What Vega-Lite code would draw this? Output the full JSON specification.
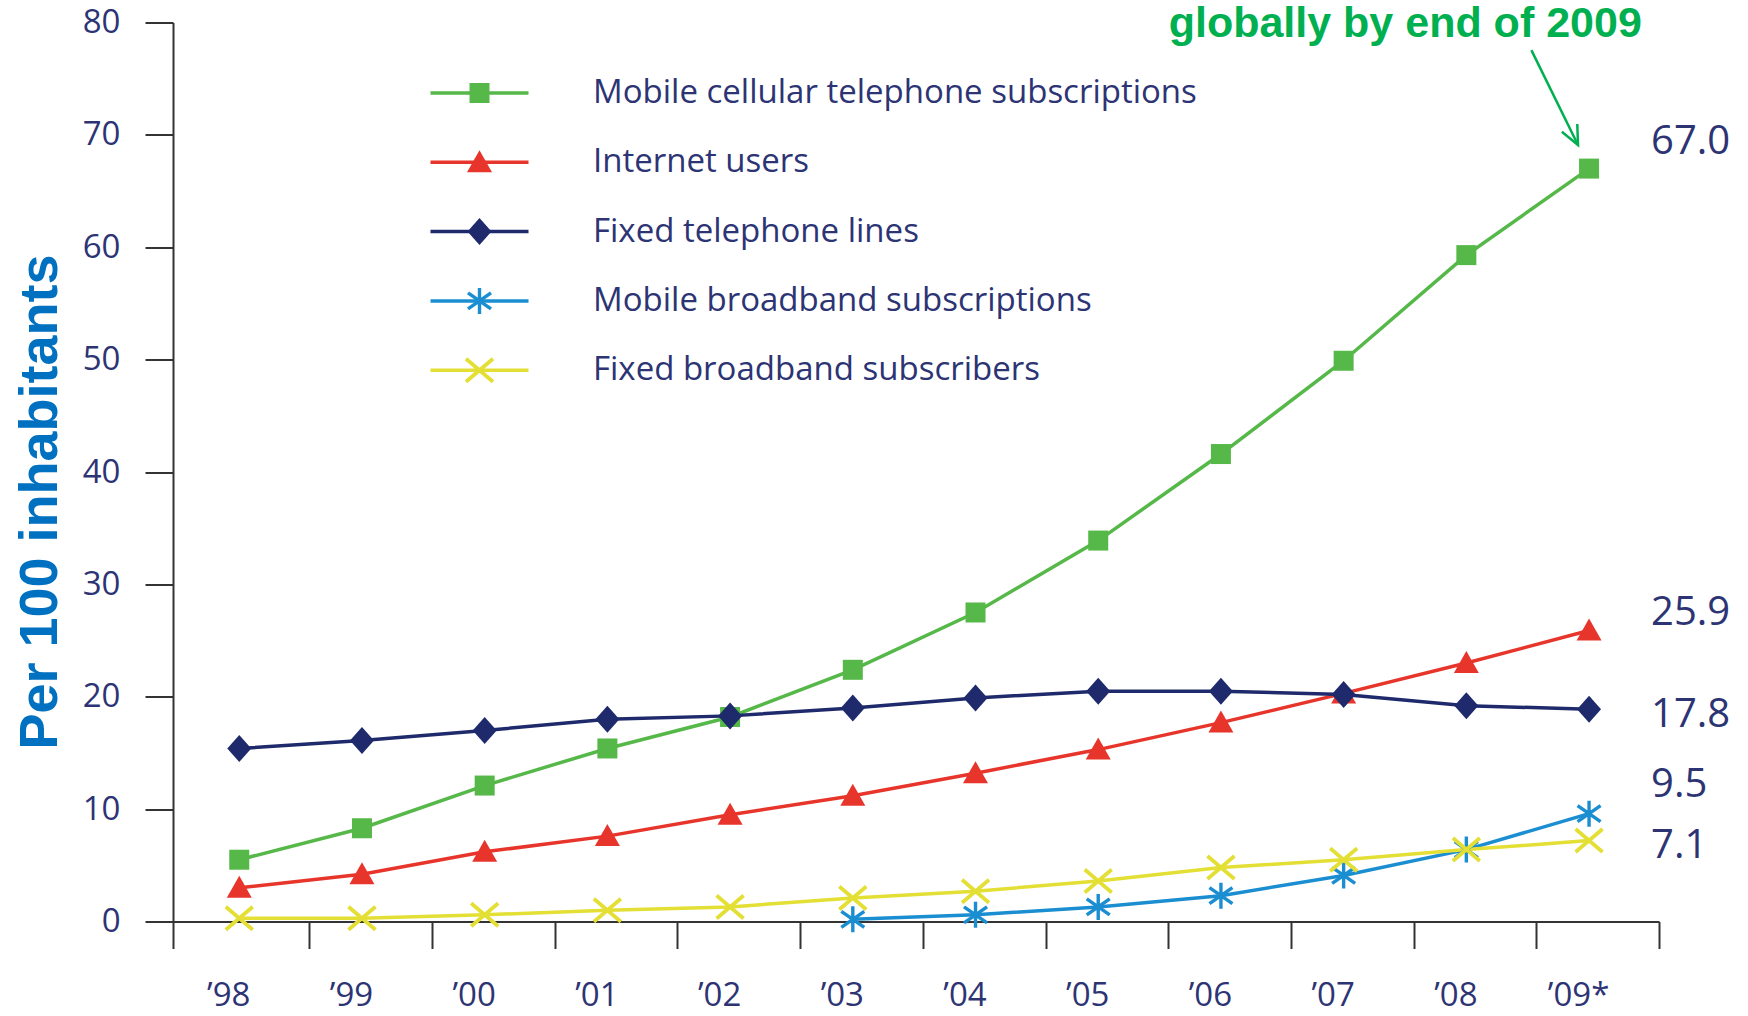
{
  "$schema": "https://vega.github.io/schema/vega-lite/v6.json",
  "width": 1486,
  "height": 926,
  "autosize": {"type": "none"},
  "padding": {"left": 173, "top": 22.5, "right": 89, "bottom": 67.5},
  "background": "white",
  "config": {"view": {"stroke": null}, "font": "Open Sans"},
  "datasets": {
    "main": [
      {"series": "Mobile cellular telephone subscriptions", "year": 1998, "value": 5.5},
      {"series": "Mobile cellular telephone subscriptions", "year": 1999, "value": 8.3},
      {"series": "Mobile cellular telephone subscriptions", "year": 2000, "value": 12.1},
      {"series": "Mobile cellular telephone subscriptions", "year": 2001, "value": 15.4},
      {"series": "Mobile cellular telephone subscriptions", "year": 2002, "value": 18.2},
      {"series": "Mobile cellular telephone subscriptions", "year": 2003, "value": 22.4},
      {"series": "Mobile cellular telephone subscriptions", "year": 2004, "value": 27.5},
      {"series": "Mobile cellular telephone subscriptions", "year": 2005, "value": 33.9},
      {"series": "Mobile cellular telephone subscriptions", "year": 2006, "value": 41.6},
      {"series": "Mobile cellular telephone subscriptions", "year": 2007, "value": 49.9},
      {"series": "Mobile cellular telephone subscriptions", "year": 2008, "value": 59.3},
      {"series": "Mobile cellular telephone subscriptions", "year": 2009, "value": 67.0},
      {"series": "Internet users", "year": 1998, "value": 3.0},
      {"series": "Internet users", "year": 1999, "value": 4.2},
      {"series": "Internet users", "year": 2000, "value": 6.2},
      {"series": "Internet users", "year": 2001, "value": 7.6},
      {"series": "Internet users", "year": 2002, "value": 9.5},
      {"series": "Internet users", "year": 2003, "value": 11.2},
      {"series": "Internet users", "year": 2004, "value": 13.2},
      {"series": "Internet users", "year": 2005, "value": 15.3},
      {"series": "Internet users", "year": 2006, "value": 17.7},
      {"series": "Internet users", "year": 2007, "value": 20.3},
      {"series": "Internet users", "year": 2008, "value": 23.0},
      {"series": "Internet users", "year": 2009, "value": 25.9},
      {"series": "Fixed telephone lines", "year": 1998, "value": 15.4},
      {"series": "Fixed telephone lines", "year": 1999, "value": 16.1},
      {"series": "Fixed telephone lines", "year": 2000, "value": 17.0},
      {"series": "Fixed telephone lines", "year": 2001, "value": 18.0},
      {"series": "Fixed telephone lines", "year": 2002, "value": 18.3},
      {"series": "Fixed telephone lines", "year": 2003, "value": 19.0},
      {"series": "Fixed telephone lines", "year": 2004, "value": 19.9},
      {"series": "Fixed telephone lines", "year": 2005, "value": 20.5},
      {"series": "Fixed telephone lines", "year": 2006, "value": 20.5},
      {"series": "Fixed telephone lines", "year": 2007, "value": 20.2},
      {"series": "Fixed telephone lines", "year": 2008, "value": 19.2},
      {"series": "Fixed telephone lines", "year": 2009, "value": 18.9},
      {"series": "Mobile broadband subscriptions", "year": 2003, "value": 0.2},
      {"series": "Mobile broadband subscriptions", "year": 2004, "value": 0.6},
      {"series": "Mobile broadband subscriptions", "year": 2005, "value": 1.3},
      {"series": "Mobile broadband subscriptions", "year": 2006, "value": 2.3},
      {"series": "Mobile broadband subscriptions", "year": 2007, "value": 4.1},
      {"series": "Mobile broadband subscriptions", "year": 2008, "value": 6.4},
      {"series": "Mobile broadband subscriptions", "year": 2009, "value": 9.6},
      {"series": "Fixed broadband subscribers", "year": 1998, "value": 0.3},
      {"series": "Fixed broadband subscribers", "year": 1999, "value": 0.3},
      {"series": "Fixed broadband subscribers", "year": 2000, "value": 0.6},
      {"series": "Fixed broadband subscribers", "year": 2001, "value": 1.0},
      {"series": "Fixed broadband subscribers", "year": 2002, "value": 1.3},
      {"series": "Fixed broadband subscribers", "year": 2003, "value": 2.1},
      {"series": "Fixed broadband subscribers", "year": 2004, "value": 2.7},
      {"series": "Fixed broadband subscribers", "year": 2005, "value": 3.6},
      {"series": "Fixed broadband subscribers", "year": 2006, "value": 4.8},
      {"series": "Fixed broadband subscribers", "year": 2007, "value": 5.5},
      {"series": "Fixed broadband subscribers", "year": 2008, "value": 6.4},
      {"series": "Fixed broadband subscribers", "year": 2009, "value": 7.2}
    ],
    "labels": [
      {"series": "Mobile cellular telephone subscriptions", "year": 2009, "value": 67.0},
      {"series": "Internet users", "year": 2009, "value": 25.9},
      {"series": "Fixed telephone lines", "year": 2009, "value": 17.8},
      {"series": "Mobile broadband subscriptions", "year": 2009, "value": 9.5},
      {"series": "Fixed broadband subscribers", "year": 2009, "value": 7.1}
    ]
  },
  "layer": [
    {
      "data": {"name": "main"},
      "mark": {"type": "line", "strokeWidth": 3.5},
      "encoding": {
        "x": {
          "field": "year", "type": "quantitative",
          "scale": {"domain": [1997.46, 2009.57], "nice": false, "zero": false},
          "axis": {
            "values": [1998, 1999, 2000, 2001, 2002, 2003, 2004, 2005, 2006, 2007, 2008, 2009],
            "labelExpr": "datum.value == 2009 ? '’09*' : '’' + substring(toString(datum.value), 2)",
            "title": null,
            "grid": false,
            "offset": -27,
            "tickOffset": 70,
            "labelOffset": -81,
            "tickSize": 27,
            "tickWidth": 2,
            "tickColor": "#333333",
            "domainColor": "#333333",
            "domainWidth": 2,
            "labelFont": "Open Sans",
            "labelFontSize": 33,
            "labelColor": "#2d3474",
            "labelPadding": 31,
            "labelFlush": false,
            "labelOverlap": false,
            "labelBound": false
          }
        },
        "y": {
          "field": "value", "type": "quantitative",
          "scale": {"domain": [-2.4, 80], "nice": false, "zero": false},
          "axis": {
            "values": [0, 10, 20, 30, 40, 50, 60, 70, 80],
            "title": "Per 100 inhabitants",
            "titleFont": "Liberation Sans",
            "titleFontSize": 54,
            "titleFontWeight": "bold",
            "titleColor": "#0070c0",
            "titleAngle": -90,
            "titleAlign": "center",
            "titleBaseline": "alphabetic",
            "titleX": -117,
            "titleY": 479,
            "grid": false,
            "tickSize": 28,
            "tickWidth": 2,
            "tickColor": "#333333",
            "domainColor": "#333333",
            "domainWidth": 2,
            "labelFont": "Open Sans",
            "labelFontSize": 33,
            "labelColor": "#2d3474",
            "labelPadding": 25,
            "labelFlush": false,
            "labelOverlap": false,
            "labelBound": false
          }
        },
        "stroke": {
          "field": "series", "type": "nominal",
          "scale": {
            "domain": ["Mobile cellular telephone subscriptions", "Internet users", "Fixed telephone lines", "Mobile broadband subscriptions", "Fixed broadband subscribers"],
            "range": ["#55b848", "#e8352b", "#1e2a6b", "#1b8ed1", "#e3df35"]
          },
          "legend": {
            "title": null,
            "orient": "none",
            "legendX": 290,
            "legendY": 54,
            "symbolType": "M-4.9,0H4.9",
            "symbolSize": 400,
            "symbolStrokeWidth": 3.5,
            "labelFont": "Open Sans",
            "labelFontSize": 33,
            "labelColor": "#2d3474",
            "labelOffset": 97,
            "labelLimit": 2000,
            "rowPadding": 35.3,
            "zindex": 0
          }
        }
      }
    },
    {
      "data": {"name": "main"},
      "mark": {"type": "point", "filled": true, "size": 400, "opacity": 1},
      "encoding": {
        "x": {"field": "year", "type": "quantitative"},
        "y": {"field": "value", "type": "quantitative"},
        "color": {
          "field": "series", "type": "nominal", "sort": null,
          "scale": {"range": ["#55b848", "#e8352b", "#1e2a6b", "#1b8ed1", "#e3df35"]},
          "legend": {
            "title": null,
            "orient": "none",
            "legendX": 290,
            "legendY": 54,
            "symbolSize": 400,
            "symbolStrokeWidth": 0,
            "symbolOpacity": 1,
            "labelFont": "Open Sans",
            "labelFontSize": 33,
            "labelExpr": "' '",
            "labelOffset": 97,
            "rowPadding": 35.3,
            "zindex": 1
          }
        },
        "shape": {
          "field": "series", "type": "nominal", "sort": null,
          "scale": {
            "range": [
              "M-1,-1H1V1H-1Z",
              "M0,-1.2L1.25,1H-1.25Z",
              "M0,-1.35L1.2,0L0,1.35L-1.2,0Z",
              "M-0.17,-1.3H0.17V1.3H-0.17Z M-1.25,-0.66L-1.05,-0.94L1.25,0.66L1.05,0.94Z M1.25,-0.66L-1.05,0.94L-1.25,0.66L1.05,-0.94Z",
              "M-1.47,-1L-1.23,-1.3L1.47,1L1.23,1.3Z M1.47,-1L-1.23,1.3L-1.47,1L1.23,-1.3Z"
            ]
          },
          "legend": {
            "title": null,
            "orient": "none",
            "legendX": 290,
            "legendY": 54,
            "symbolSize": 400,
            "symbolStrokeWidth": 0,
            "symbolOpacity": 1,
            "labelFont": "Open Sans",
            "labelFontSize": 33,
            "labelExpr": "' '",
            "labelOffset": 97,
            "rowPadding": 35.3,
            "zindex": 1
          }
        }
      }
    },
    {
      "data": {"name": "labels"},
      "mark": {
        "type": "text",
        "align": "left",
        "baseline": "middle",
        "dx": 62,
        "dy": {"expr": "datum.series === 'Mobile cellular telephone subscriptions' ? -27 : datum.series === 'Internet users' ? -17 : datum.series === 'Fixed telephone lines' ? -6 : datum.series === 'Mobile broadband subscriptions' ? -30 : 4"},
        "font": "Open Sans",
        "fontSize": 40,
        "color": "#2d3474"
      },
      "encoding": {
        "x": {"field": "year", "type": "quantitative"},
        "y": {"field": "value", "type": "quantitative"},
        "text": {"field": "value", "type": "quantitative", "format": ".1f"}
      }
    },
    {
      "data": {"values": [{"note": "globally by end of 2009"}]},
      "mark": {"type": "text", "align": "right", "baseline": "alphabetic", "font": "Liberation Sans", "fontSize": 43, "fontWeight": "bold", "color": "#00b050"},
      "encoding": {
        "x": {"datum": 2009.43, "type": "quantitative"},
        "y": {"datum": 78.7, "type": "quantitative"},
        "text": {"field": "note"}
      }
    },
    {
      "data": {"values": [{}]},
      "mark": {"type": "rule", "color": "#00b050", "strokeWidth": 2.5},
      "encoding": {
        "x": {"datum": 2008.53, "type": "quantitative"},
        "y": {"datum": 77.54, "type": "quantitative"},
        "x2": {"datum": 2008.91},
        "y2": {"datum": 69.1}
      }
    },
    {
      "data": {"values": [{}]},
      "mark": {"type": "point", "filled": false, "shape": "M-0.41,-0.91L0,0L0.41,-0.91", "size": 1764, "angle": -26.3, "color": "#00b050", "strokeWidth": 2.5, "opacity": 1},
      "encoding": {
        "x": {"datum": 2008.91, "type": "quantitative"},
        "y": {"datum": 69.1, "type": "quantitative"}
      }
    }
  ]
}
